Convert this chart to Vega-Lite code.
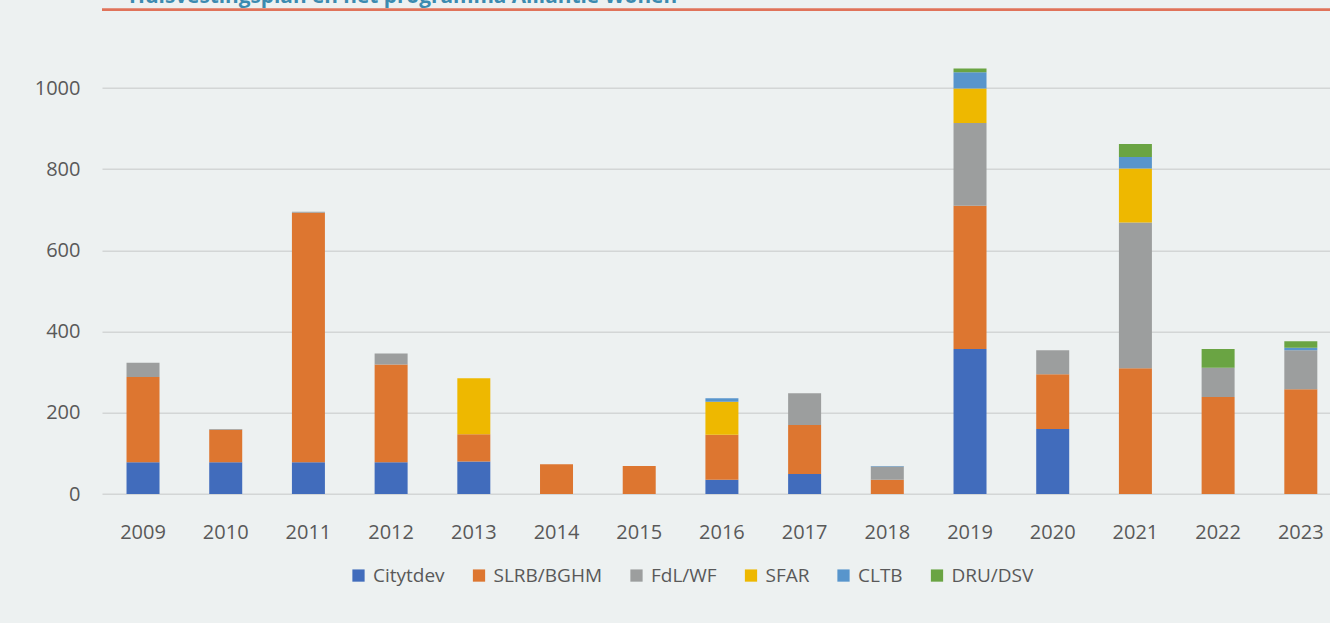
{
  "$schema": "https://vega.github.io/schema/vega-lite/v6.json",
  "autosize": "none",
  "width": 1228,
  "height": 487.2,
  "padding": {"left": 102, "top": 6.8, "right": 0, "bottom": 129},
  "background": "#EDF1F1",
  "title": {
    "text": "Huisvestingsplan en het programma Alliantie Wonen",
    "anchor": "start",
    "frame": "group",
    "dx": 27,
    "dy": 3.5,
    "offset": 3,
    "fontSize": 20.8,
    "font": "Open Sans",
    "fontWeight": "bold",
    "color": "#3C8BB0"
  },
  "config": {"view": {"stroke": null}, "font": "Open Sans"},
  "layer": [
    {
      "data": {
        "values": [
          {"year": "2009", "org": "Citytdev", "value": 78},
          {"year": "2009", "org": "SLRB/BGHM", "value": 210},
          {"year": "2009", "org": "FdL/WF", "value": 35},
          {"year": "2010", "org": "Citytdev", "value": 78},
          {"year": "2010", "org": "SLRB/BGHM", "value": 80},
          {"year": "2010", "org": "FdL/WF", "value": 2},
          {"year": "2011", "org": "Citytdev", "value": 78},
          {"year": "2011", "org": "SLRB/BGHM", "value": 615},
          {"year": "2011", "org": "FdL/WF", "value": 2},
          {"year": "2012", "org": "Citytdev", "value": 78},
          {"year": "2012", "org": "SLRB/BGHM", "value": 241},
          {"year": "2012", "org": "FdL/WF", "value": 27},
          {"year": "2013", "org": "Citytdev", "value": 80},
          {"year": "2013", "org": "SLRB/BGHM", "value": 67},
          {"year": "2013", "org": "SFAR", "value": 138},
          {"year": "2014", "org": "SLRB/BGHM", "value": 73},
          {"year": "2015", "org": "SLRB/BGHM", "value": 69},
          {"year": "2016", "org": "Citytdev", "value": 35},
          {"year": "2016", "org": "SLRB/BGHM", "value": 111},
          {"year": "2016", "org": "SFAR", "value": 81},
          {"year": "2016", "org": "CLTB", "value": 9},
          {"year": "2017", "org": "Citytdev", "value": 49},
          {"year": "2017", "org": "SLRB/BGHM", "value": 121},
          {"year": "2017", "org": "FdL/WF", "value": 78},
          {"year": "2018", "org": "SLRB/BGHM", "value": 35},
          {"year": "2018", "org": "FdL/WF", "value": 33},
          {"year": "2018", "org": "CLTB", "value": 1},
          {"year": "2019", "org": "Citytdev", "value": 357},
          {"year": "2019", "org": "SLRB/BGHM", "value": 353},
          {"year": "2019", "org": "FdL/WF", "value": 204},
          {"year": "2019", "org": "SFAR", "value": 85},
          {"year": "2019", "org": "CLTB", "value": 40},
          {"year": "2019", "org": "DRU/DSV", "value": 9},
          {"year": "2020", "org": "Citytdev", "value": 160},
          {"year": "2020", "org": "SLRB/BGHM", "value": 135},
          {"year": "2020", "org": "FdL/WF", "value": 59},
          {"year": "2021", "org": "SLRB/BGHM", "value": 310},
          {"year": "2021", "org": "FdL/WF", "value": 359},
          {"year": "2021", "org": "SFAR", "value": 133},
          {"year": "2021", "org": "CLTB", "value": 28},
          {"year": "2021", "org": "DRU/DSV", "value": 32},
          {"year": "2022", "org": "SLRB/BGHM", "value": 239},
          {"year": "2022", "org": "FdL/WF", "value": 72},
          {"year": "2022", "org": "DRU/DSV", "value": 46},
          {"year": "2023", "org": "SLRB/BGHM", "value": 258},
          {"year": "2023", "org": "FdL/WF", "value": 96},
          {"year": "2023", "org": "CLTB", "value": 6},
          {"year": "2023", "org": "DRU/DSV", "value": 16}
        ]
      },
      "transform": [
        {"calculate": "indexof(['Citytdev','SLRB/BGHM','FdL/WF','SFAR','CLTB','DRU/DSV'], datum.org)", "as": "stackOrder"}
      ],
      "mark": {"type": "bar"},
      "encoding": {
        "x": {
          "field": "year",
          "type": "ordinal",
          "scale": {"paddingInner": 0.601, "paddingOuter": 0.225, "align": 0.659},
          "axis": {
            "title": null,
            "domain": false,
            "ticks": false,
            "labelAngle": 0,
            "labelFontSize": 20,
            "labelColor": "#595959",
            "labelPadding": 28,
            "labelFont": "Open Sans"
          }
        },
        "y": {
          "field": "value",
          "type": "quantitative",
          "stack": "zero",
          "scale": {"domain": [0, 1200], "nice": false},
          "axis": {
            "title": null,
            "domain": false,
            "ticks": false,
            "format": "d",
            "values": [0, 200, 400, 600, 800, 1000],
            "gridColor": "#D3D6D6",
            "gridWidth": 1.5,
            "labelFontSize": 20,
            "labelColor": "#595959",
            "labelPadding": 22,
            "labelFont": "Open Sans"
          }
        },
        "order": {"field": "stackOrder", "type": "quantitative", "sort": "ascending"},
        "color": {
          "field": "org",
          "type": "nominal",
          "sort": ["Citytdev", "SLRB/BGHM", "FdL/WF", "SFAR", "CLTB", "DRU/DSV"],
          "scale": {
            "domain": ["Citytdev", "SLRB/BGHM", "FdL/WF", "SFAR", "CLTB", "DRU/DSV"],
            "range": ["#416CBC", "#DD7630", "#9C9E9E", "#EEB800", "#5895CC", "#6AA443"]
          },
          "legend": {
            "title": null,
            "orient": "none",
            "legendX": 247,
            "legendY": 559,
            "direction": "horizontal",
            "symbolType": "square",
            "symbolSize": 150,
            "symbolStrokeWidth": 0,
            "labelFontSize": 19,
            "labelColor": "#595959",
            "labelFont": "Open Sans",
            "labelOffset": 5,
            "columnPadding": 24.5,
            "padding": 0
          }
        }
      }
    },
    {
      "data": {"values": [{}]},
      "mark": {"type": "rule", "color": "#E0735A", "strokeWidth": 2.7, "clip": false},
      "encoding": {"y": {"datum": 1193, "type": "quantitative"}}
    }
  ]
}
